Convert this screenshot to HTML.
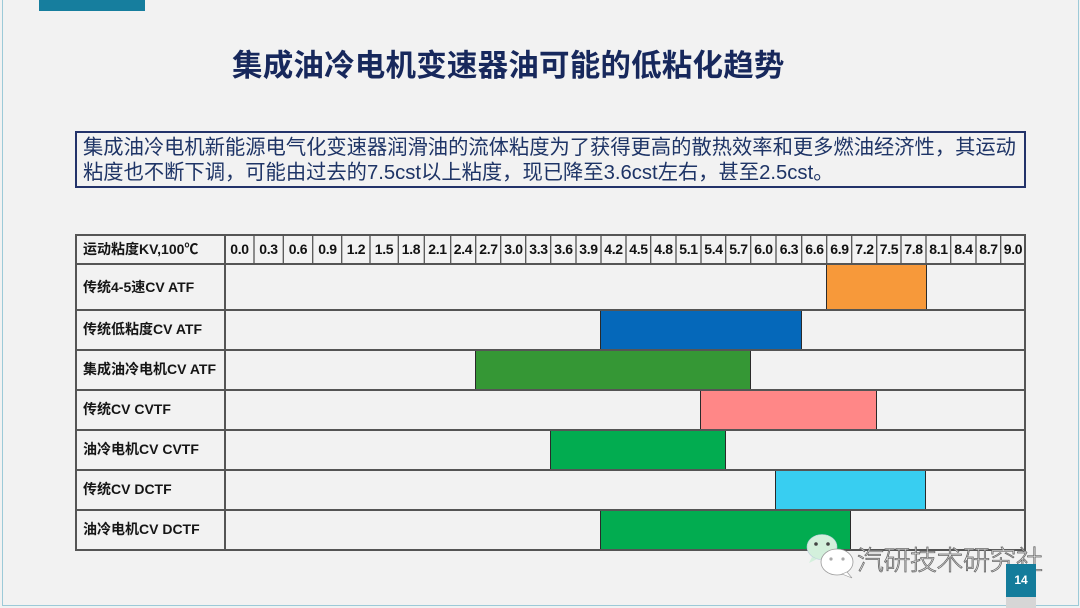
<!DOCTYPE html>
<html>
<head>
<meta charset="utf-8">
<style>
  html,body{margin:0;padding:0;}
  body{width:1080px;height:608px;overflow:hidden;background:#F2F2F2;position:relative;
    font-family:"Liberation Sans","Noto Sans CJK SC",sans-serif;}
  .abs{position:absolute;}
  .frame{position:absolute;left:2px;top:0;width:1075px;height:605px;border:1px solid #9CCAD8;border-top:none;box-sizing:content-box;}
  .topbar{position:absolute;left:39px;top:0;width:106px;height:11px;background:#167E9E;}
  .title{position:absolute;left:232px;top:46px;font-size:30.5px;font-weight:bold;color:#17285C;white-space:nowrap;line-height:40px;letter-spacing:0.2px;}
  .tbox{position:absolute;left:75px;top:131px;width:951px;height:57px;border:2px solid #23336A;box-sizing:border-box;}
  .tline{position:absolute;left:83px;font-size:20.3px;color:#1E3466;white-space:nowrap;line-height:24px;}
  .hl{position:absolute;background:#555;}
  .tick{position:absolute;top:235px;height:29px;line-height:29px;font-size:14px;font-weight:bold;color:#111;text-align:center;letter-spacing:-0.3px;}
  .lab{position:absolute;left:83px;font-size:14px;font-weight:bold;color:#151515;white-space:nowrap;}
  .bar{position:absolute;box-sizing:border-box;border:1px solid #2a2a2a;}
  .wm{position:absolute;left:857px;top:542px;font-size:27px;color:#fff;-webkit-text-stroke:0.8px #666;white-space:nowrap;letter-spacing:-0.5px;font-family:"Noto Sans CJK SC",sans-serif;font-weight:300;line-height:34px;}
  .pg{position:absolute;left:1006px;top:564px;width:30px;height:33px;background:#147C9B;color:#fff;font-size:12px;font-weight:bold;text-align:center;line-height:33px;}
  .pg2{position:absolute;left:1006px;top:597px;width:30px;height:11px;background:#D6D6D6;}
</style>
</head>
<body>
<div class="frame"></div>
<div class="topbar"></div>
<div class="title">集成油冷电机变速器油可能的低粘化趋势</div>

<div class="tbox"></div>
<div class="tline" style="top:136px;">集成油冷电机新能源电气化变速器润滑油的流体粘度为了获得更高的散热效率和更多燃油经济性，其运动</div>
<div class="tline" style="top:161px;">粘度也不断下调，可能由过去的7.5cst以上粘度，现已降至3.6cst左右，甚至2.5cst。</div>

<!-- bars -->
<div class="bar" style="left:826px;top:264px;width:101px;height:46px;background:#F7993A;"></div>
<div class="bar" style="left:600px;top:310px;width:202px;height:41px;background:#0568BA;"></div>
<div class="bar" style="left:475px;top:350px;width:276px;height:41px;background:#359735;"></div>
<div class="bar" style="left:700px;top:390px;width:177px;height:41px;background:#FF8787;"></div>
<div class="bar" style="left:550px;top:430px;width:176px;height:41px;background:#02AC50;"></div>
<div class="bar" style="left:775px;top:470px;width:151px;height:41px;background:#38CEF1;"></div>
<div class="bar" style="left:600px;top:510px;width:251px;height:41px;background:#02AC50;"></div>

<!-- table lines -->
<div class="hl" style="left:75px;top:234px;width:951px;height:2px;"></div>
<div class="hl" style="left:75px;top:549px;width:951px;height:2px;"></div>
<div class="hl" style="left:75px;top:234px;width:2px;height:317px;"></div>
<div class="hl" style="left:1024px;top:234px;width:2px;height:317px;"></div>
<div class="hl" style="left:224px;top:234px;width:2px;height:317px;"></div>
<div class="hl" style="left:75px;top:263px;width:951px;height:2px;"></div>
<div class="hl" style="left:75px;top:309px;width:951px;height:2px;"></div>
<div class="hl" style="left:75px;top:349px;width:951px;height:2px;"></div>
<div class="hl" style="left:75px;top:389px;width:951px;height:2px;"></div>
<div class="hl" style="left:75px;top:429px;width:951px;height:2px;"></div>
<div class="hl" style="left:75px;top:469px;width:951px;height:2px;"></div>
<div class="hl" style="left:75px;top:509px;width:951px;height:2px;"></div>

<svg class="abs" style="left:0;top:0" width="1080" height="608">
  <g stroke="#555" stroke-width="1.3">
    <line x1="254" y1="235" x2="254" y2="264"/>
    <line x1="283.3" y1="235" x2="283.3" y2="264"/>
    <line x1="312.7" y1="235" x2="312.7" y2="264"/>
    <line x1="341.7" y1="235" x2="341.7" y2="264"/>
    <line x1="370" y1="235" x2="370" y2="264"/>
    <line x1="398.3" y1="235" x2="398.3" y2="264"/>
    <line x1="424.3" y1="235" x2="424.3" y2="264"/>
    <line x1="450.7" y1="235" x2="450.7" y2="264"/>
    <line x1="475.7" y1="235" x2="475.7" y2="264"/>
    <line x1="500.7" y1="235" x2="500.7" y2="264"/>
    <line x1="525.7" y1="235" x2="525.7" y2="264"/>
    <line x1="550.7" y1="235" x2="550.7" y2="264"/>
    <line x1="576" y1="235" x2="576" y2="264"/>
    <line x1="601" y1="235" x2="601" y2="264"/>
    <line x1="626" y1="235" x2="626" y2="264"/>
    <line x1="650.7" y1="235" x2="650.7" y2="264"/>
    <line x1="676" y1="235" x2="676" y2="264"/>
    <line x1="701" y1="235" x2="701" y2="264"/>
    <line x1="725.7" y1="235" x2="725.7" y2="264"/>
    <line x1="750.7" y1="235" x2="750.7" y2="264"/>
    <line x1="776" y1="235" x2="776" y2="264"/>
    <line x1="801.7" y1="235" x2="801.7" y2="264"/>
    <line x1="826.7" y1="235" x2="826.7" y2="264"/>
    <line x1="851.7" y1="235" x2="851.7" y2="264"/>
    <line x1="876.7" y1="235" x2="876.7" y2="264"/>
    <line x1="901" y1="235" x2="901" y2="264"/>
    <line x1="926" y1="235" x2="926" y2="264"/>
    <line x1="950.7" y1="235" x2="950.7" y2="264"/>
    <line x1="976" y1="235" x2="976" y2="264"/>
    <line x1="1000.7" y1="235" x2="1000.7" y2="264"/>
  </g>
</svg>

<!-- tick labels -->
<div class="tick" style="left:225px;width:29px;">0.0</div>
<div class="tick" style="left:254px;width:29px;">0.3</div>
<div class="tick" style="left:283px;width:30px;">0.6</div>
<div class="tick" style="left:313px;width:29px;">0.9</div>
<div class="tick" style="left:342px;width:28px;">1.2</div>
<div class="tick" style="left:370px;width:28px;">1.5</div>
<div class="tick" style="left:398px;width:26px;">1.8</div>
<div class="tick" style="left:424px;width:27px;">2.1</div>
<div class="tick" style="left:450px;width:26px;">2.4</div>
<div class="tick" style="left:476px;width:25px;">2.7</div>
<div class="tick" style="left:501px;width:25px;">3.0</div>
<div class="tick" style="left:526px;width:25px;">3.3</div>
<div class="tick" style="left:551px;width:25px;">3.6</div>
<div class="tick" style="left:576px;width:25px;">3.9</div>
<div class="tick" style="left:601px;width:25px;">4.2</div>
<div class="tick" style="left:626px;width:25px;">4.5</div>
<div class="tick" style="left:651px;width:25px;">4.8</div>
<div class="tick" style="left:676px;width:25px;">5.1</div>
<div class="tick" style="left:701px;width:25px;">5.4</div>
<div class="tick" style="left:726px;width:25px;">5.7</div>
<div class="tick" style="left:751px;width:25px;">6.0</div>
<div class="tick" style="left:776px;width:26px;">6.3</div>
<div class="tick" style="left:802px;width:25px;">6.6</div>
<div class="tick" style="left:827px;width:25px;">6.9</div>
<div class="tick" style="left:852px;width:25px;">7.2</div>
<div class="tick" style="left:877px;width:24px;">7.5</div>
<div class="tick" style="left:901px;width:25px;">7.8</div>
<div class="tick" style="left:926px;width:25px;">8.1</div>
<div class="tick" style="left:951px;width:25px;">8.4</div>
<div class="tick" style="left:976px;width:25px;">8.7</div>
<div class="tick" style="left:1001px;width:24px;">9.0</div>

<!-- row labels -->
<div class="lab" style="top:239px;">运动粘度KV,100℃</div>
<div class="lab" style="top:277px;">传统4-5速CV ATF</div>
<div class="lab" style="top:319px;">传统低粘度CV ATF</div>
<div class="lab" style="top:359px;">集成油冷电机CV ATF</div>
<div class="lab" style="top:399px;">传统CV CVTF</div>
<div class="lab" style="top:439px;">油冷电机CV CVTF</div>
<div class="lab" style="top:479px;">传统CV DCTF</div>
<div class="lab" style="top:519px;">油冷电机CV DCTF</div>

<!-- watermark -->
<svg class="abs" style="left:800px;top:532px" width="60" height="50">
  <ellipse cx="22" cy="15" rx="15" ry="12.5" fill="#D3F0DC" stroke="#bcd" stroke-width="0.6"/>
  <path d="M12 25 L9 31 L17 27 Z" fill="#D3F0DC"/>
  <circle cx="16" cy="12" r="1.8" fill="#444"/>
  <circle cx="28" cy="12" r="1.8" fill="#444"/>
  <ellipse cx="37" cy="30" rx="16" ry="13" fill="#fff" stroke="#999" stroke-width="0.8"/>
  <path d="M47 40 L52 46 L42 42 Z" fill="#fff" stroke="#999" stroke-width="0.6"/>
  <circle cx="31" cy="27" r="1.6" fill="#aaa"/>
  <circle cx="43" cy="27" r="1.6" fill="#aaa"/>
</svg>
<div class="wm">汽研技术研究社</div>

<div class="pg">14</div>
<div class="pg2"></div>
</body>
</html>
